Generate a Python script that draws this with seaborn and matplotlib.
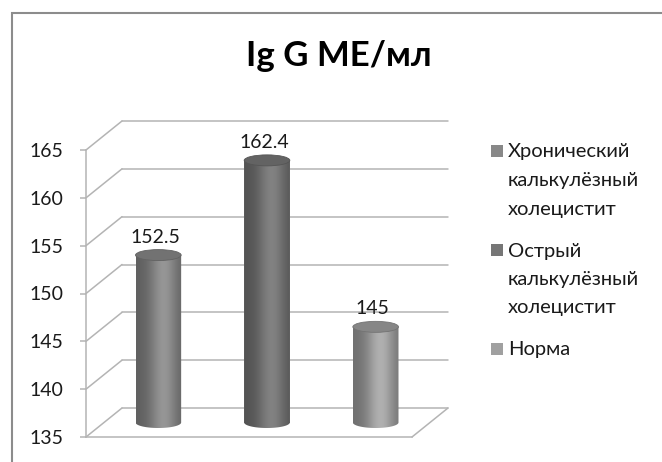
import numpy as np
import matplotlib
matplotlib.use("Agg")
import matplotlib.pyplot as plt
import seaborn as sns
from matplotlib.patches import Rectangle, Ellipse, PathPatch, ConnectionPatch
from matplotlib.path import Path
from matplotlib.colors import to_rgb

# ---- data ----
title = "Ig G МЕ/мл"
categories = ["Хронический\nкалькулёзный\nхолецистит",
              "Острый\nкалькулёзный\nхолецистит",
              "Норма"]
values = [152.5, 162.4, 145]
value_labels = ["152.5", "162.4", "145"]
yticks = [135, 140, 145, 150, 155, 160, 165]

# ---- style ----
bar_colors = ["#888888", "#767676", "#a0a0a0"]
GRID = "#b4b4b4"
TEXT = "#1a1a1a"
FS = 14

W, H, DPI = 662, 462, 100
sns.set_theme(style="white")
plt.rcParams['font.family'] = ['Lato', 'Open Sans', 'DejaVu Sans']

fig = plt.figure(figsize=(W / DPI, H / DPI), dpi=DPI)
fig.patch.set_facecolor('white')


def px_rect(left, top, right, bottom):
    return [left / W, 1 - bottom / H, (right - left) / W, (bottom - top) / H]


FL, FT, FR, FB = 86, 150, 412, 437     # front plane in pixels
DX, DY = 36, 29                          # depth offset in pixels
ax_back = fig.add_axes(px_rect(FL + DX, FT - DY, FR + DX, FB - DY))
ax_front = fig.add_axes(px_rect(FL, FT, FR, FB))
ax_mid = fig.add_axes(px_rect(FL + DX / 2, FT - DY / 2, FR + DX / 2, FB - DY / 2))

ylim = (yticks[0], yticks[-1])
xlim = (-0.5, len(categories) - 0.5)

# bars (mid depth plane)
sns.barplot(x=categories, y=values, hue=categories, palette=bar_colors,
            width=0.42, legend=False, saturation=1, ax=ax_mid)

for a in (ax_back, ax_front, ax_mid):
    a.set_xlim(*xlim)
    a.set_ylim(*ylim)
    a.patch.set_alpha(0)
    a.set_autoscale_on(False)

for a in (ax_back, ax_mid):
    for s in a.spines.values():
        s.set_visible(False)
    a.set_xticks([])
    a.set_yticks([])
    a.set_xlabel("")
    a.set_ylabel("")

# back wall grid lines
for v in yticks:
    ax_back.axhline(v, color=GRID, lw=1.1, clip_on=False, zorder=1)

# front plane: axis, ticks, floor edge
ax_front.spines['top'].set_visible(False)
ax_front.spines['right'].set_visible(False)
for s in ('left', 'bottom'):
    ax_front.spines[s].set_color(GRID)
    ax_front.spines[s].set_linewidth(1.1)
ax_front.set_xticks([])
ax_front.set_yticks(yticks)
ax_front.set_yticklabels([str(v) for v in yticks])
ax_front.tick_params(axis='y', length=4.5, width=1.1, color=GRID, pad=12,
                     labelsize=FS, labelcolor=TEXT, left=True)

# side wall / floor diagonals
for v in yticks:
    con = ConnectionPatch(xyA=(xlim[0], v), coordsA=ax_front.transData,
                          xyB=(xlim[0], v), coordsB=ax_back.transData,
                          color=GRID, lw=1.1)
    fig.add_artist(con)
con = ConnectionPatch(xyA=(xlim[1], ylim[0]), coordsA=ax_front.transData,
                      xyB=(xlim[1], ylim[0]), coordsB=ax_back.transData,
                      color=GRID, lw=1.1)
fig.add_artist(con)

# cylinder shading
mid_h_px = FB - FT
ELL_PX = 11
h_data = ELL_PX * (ylim[1] - ylim[0]) / mid_h_px
N = 200
t = np.linspace(0, 1, N)
prof = 0.70 + 0.40 * np.exp(-((t - 0.6) / 0.3) ** 2)

patches = sorted(ax_mid.patches, key=lambda p: p.get_x())
for p, col, lbl in zip(patches, bar_colors, value_labels):
    x0, w, top = p.get_x(), p.get_width(), p.get_height()
    cx = x0 + w / 2
    p.set_linewidth(0)
    base = np.array(to_rgb(col))
    img = np.clip(prof[None, :, None] * base[None, None, :], 0, 1)
    im = ax_mid.imshow(img, extent=[x0, x0 + w, ylim[0] - h_data / 2, top],
                       aspect='auto', interpolation='bilinear', zorder=2)
    th = np.linspace(np.pi, 2 * np.pi, 40)
    verts = [(x0, top), (x0, ylim[0])]
    verts += list(zip(cx + w / 2 * np.cos(th), ylim[0] + h_data / 2 * np.sin(th)))
    verts += [(x0 + w, top), (x0, top)]
    codes = [Path.MOVETO] + [Path.LINETO] * (len(verts) - 2) + [Path.CLOSEPOLY]
    clip = PathPatch(Path(verts, codes), transform=ax_mid.transData)
    im.set_clip_path(clip)
    im.set_clip_box(fig.bbox)
    ax_mid.add_patch(Ellipse((cx, top), w, h_data,
                             facecolor=np.clip(base * 0.84, 0, 1),
                             edgecolor=np.clip(base * 0.72, 0, 1),
                             lw=0.6, zorder=3, clip_on=False))
    ax_mid.annotate(lbl, (cx, top), xytext=(-3 * 72 / DPI, (ELL_PX / 2 + 4) * 72 / DPI),
                    textcoords='offset points', ha='center', va='bottom',
                    fontsize=FS, color=TEXT)

# title
fig.text(339 / W, 1 - 56 / H, title, ha='center', va='center',
         fontsize=25, fontweight='bold', color='black')

# legend (manual)
for i, (lab, col) in enumerate(zip(categories, bar_colors)):
    top_px = 145 + i * 99
    fig.add_artist(Rectangle((491 / W, 1 - (top_px + 12) / H), 12 / W, 12 / H,
                             transform=fig.transFigure, facecolor=col,
                             edgecolor='none'))
    for j, line in enumerate(lab.split("\n")):
        fig.text(508 / W, 1 - (top_px + 12.5 + j * 28.5) / H, line,
                 fontsize=14.5, va='baseline', ha='left', color=TEXT)

# outer border
fig.add_artist(Rectangle((12 / W, -0.1), 1.2, 1 - 13 / H + 0.1,
                         transform=fig.transFigure, fill=False,
                         edgecolor='#8c8c8c', lw=1.5))

fig.savefig('out.png', dpi=DPI)
